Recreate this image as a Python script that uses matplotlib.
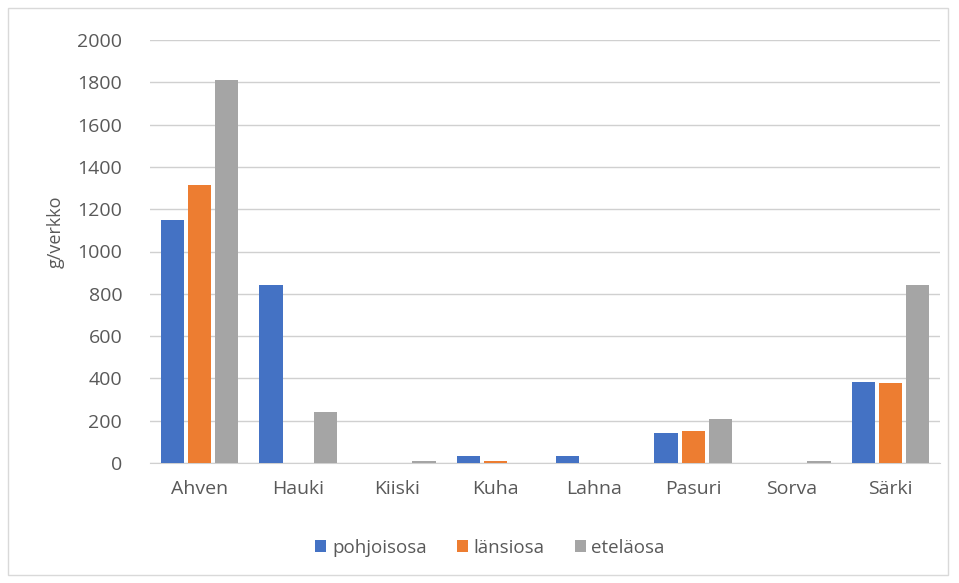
import matplotlib
matplotlib.use("Agg")
import matplotlib.pyplot as plt
import numpy as np
from matplotlib.patches import Rectangle

categories = ["Ahven", "Hauki", "Kiiski", "Kuha", "Lahna", "Pasuri", "Sorva", "Särki"]
pohjoisosa = [1150, 840, 0, 35, 35, 140, 0, 385]
lansiosa = [1315, 0, 0, 10, 0, 150, 0, 380]
etelaosa = [1810, 240, 10, 0, 0, 210, 10, 840]
series_names = ["pohjoisosa", "länsiosa", "eteläosa"]
yticks = [0, 200, 400, 600, 800, 1000, 1200, 1400, 1600, 1800, 2000]

colors = ["#4472C4", "#ED7D31", "#A5A5A5"]
text_color = "#595959"
plt.rcParams['font.family'] = ['Open Sans', 'DejaVu Sans']

fig = plt.figure(figsize=(9.59, 5.83), dpi=100)
fig.patches.append(Rectangle((8/959, 8/583), 940/959, 567/583, transform=fig.transFigure,
                             fill=False, edgecolor="#D9D9D9", linewidth=1.0))
ax = fig.add_axes([150/959, 1 - 463/583, 790/959, 423/583])

x = np.arange(len(categories))
w = 0.235
step = 0.275
for i, (vals, c, name) in enumerate(zip([pohjoisosa, lansiosa, etelaosa], colors, series_names)):
    ax.bar(x + (i - 1) * step, vals, width=w, color=c, label=name, zorder=3)

ax.set_xlim(-0.5, len(categories) - 0.5)
ax.set_ylim(0, 2000)
ax.set_yticks(yticks)
ax.set_yticklabels([str(t) for t in yticks])
ax.set_xticks(x)
ax.set_xticklabels(categories)
ax.grid(axis="y", color="#D0D0D0", linewidth=1.0, zorder=0)
for s in ["top", "right", "left"]:
    ax.spines[s].set_visible(False)
ax.spines["bottom"].set_color("#D0D0D0")
ax.tick_params(axis="both", length=0, labelsize=14, colors=text_color)
ax.tick_params(axis="y", pad=20)
ax.tick_params(axis="x", pad=12)
fig.text(56/959, 1 - 232/583, "g/verkko", rotation=90, fontsize=13, color=text_color,
         ha="center", va="center")

leg = fig.legend(loc="center", bbox_to_anchor=(490/959, 1 - 548/583), ncol=3, frameon=False,
                 fontsize=13.5, handlelength=0.6, handleheight=0.6, handletextpad=0.3,
                 columnspacing=1.6)
for t in leg.get_texts():
    t.set_color(text_color)

fig.savefig("out.png", dpi=100, facecolor="white")
